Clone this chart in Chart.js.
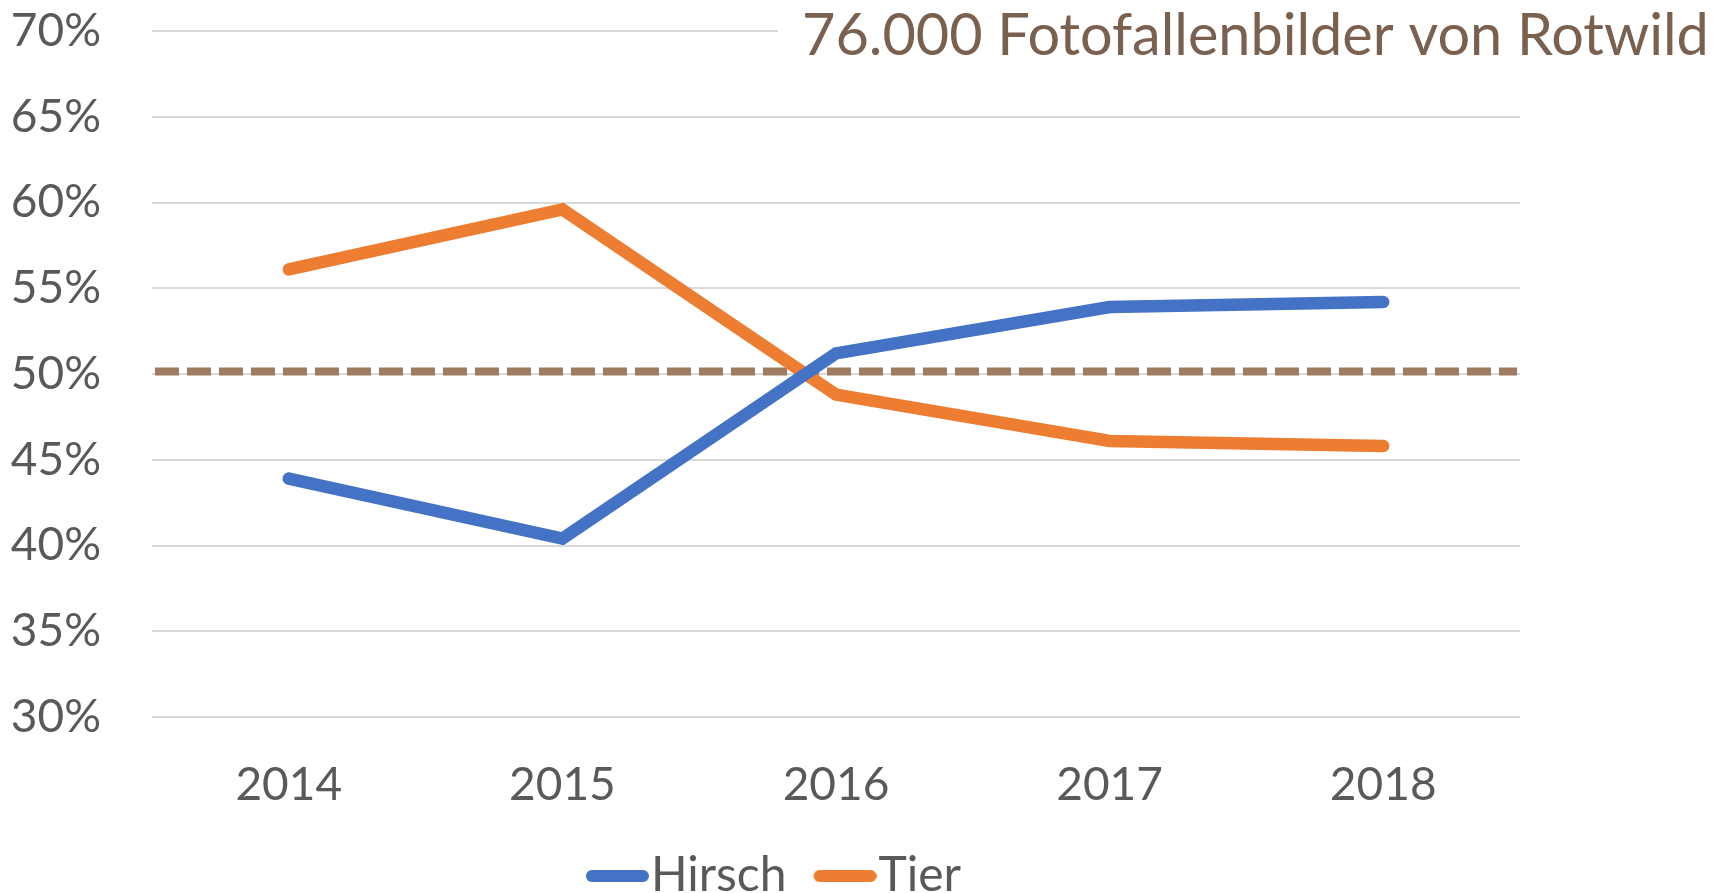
<!DOCTYPE html>
<html lang="de">
<head>
    <meta charset="UTF-8">
    <title>Fotofallenbilder von Rotwild</title>
    <style>
        html, body { margin: 0; padding: 0; background: #fff; overflow: hidden; }
        /* a bit taller than the window: the legend text is cut at the bottom like in the original */
        #wrap { width: 1730px; height: 910px; position: relative; }
    </style>
</head>
<body>
    <div id="wrap"><canvas id="chart"></canvas></div>
    <script src="https://cdn.jsdelivr.net/npm/chart.js"></script>
    <script>
        // values (percent)
        const years = ['2014', '2015', '2016', '2017', '2018'];
        const hirsch = [43.9, 40.4, 51.2, 53.9, 54.2];
        const tier = [56.1, 59.6, 48.8, 46.1, 45.8];
        const yMin = 30;
        const yMax = 70;
        const yStep = 5;
        const refLevel = 50;
        const titleText = '76.000 Fotofallenbilder von Rotwild';

        const fontFamily = 'Lato, "Open Sans", sans-serif';
        const blue = '#4472C4';
        const orange = '#ED7D31';

        // legend symbol: a thick line with round ends, sitting close to the label text
        function legendLine(color) {
            const c = document.createElement('canvas');
            c.width = 112;
            c.height = 14;
            const g = c.getContext('2d');
            g.strokeStyle = color;
            g.lineWidth = 12;
            g.lineCap = 'round';
            g.beginPath();
            g.moveTo(55, 7);
            g.lineTo(106, 7);
            g.stroke();
            return c;
        }

        // dashed 50% line across the whole plot
        const refLinePlugin = {
            id: 'refLine',
            beforeDatasetsDraw(chart) {
                const {ctx, chartArea, scales} = chart;
                const y = scales.y.getPixelForValue(refLevel) - 2.5;
                ctx.save();
                ctx.strokeStyle = '#A07D62';
                ctx.lineWidth = 8;
                ctx.setLineDash([24, 8]);
                ctx.beginPath();
                ctx.moveTo(chartArea.left + 3, y);
                ctx.lineTo(chartArea.right - 3, y);
                ctx.stroke();
                ctx.restore();
            }
        };

        // title sits on a white box over the top gridline, like in the original
        const titlePlugin = {
            id: 'boxTitle',
            afterDraw(chart) {
                const ctx = chart.ctx;
                ctx.save();
                ctx.fillStyle = '#ffffff';
                ctx.fillRect(778, 0, 952, 62);
                ctx.font = '100px ' + fontFamily;
                const size = 100 * 907 / ctx.measureText(titleText).width;
                ctx.font = size.toFixed(1) + 'px ' + fontFamily;
                ctx.fillStyle = '#7A604E';
                ctx.textBaseline = 'alphabetic';
                ctx.textAlign = 'left';
                ctx.fillText(titleText, 802, 55);
                ctx.restore();
            }
        };

        const chart = new Chart(document.getElementById('chart'), {
            type: 'line',
            data: {
                labels: years,
                datasets: [{
                    label: 'Hirsch',
                    data: hirsch,
                    borderColor: blue,
                    backgroundColor: blue,
                    borderWidth: 12.5,
                    borderCapStyle: 'round',
                    borderJoinStyle: 'miter',
                    pointRadius: 0,
                    tension: 0
                }, {
                    label: 'Tier',
                    data: tier,
                    borderColor: orange,
                    backgroundColor: orange,
                    borderWidth: 12.5,
                    borderCapStyle: 'round',
                    borderJoinStyle: 'miter',
                    pointRadius: 0,
                    tension: 0
                }]
            },
            options: {
                responsive: true,
                maintainAspectRatio: false,
                animation: false,
                layout: {
                    padding: { left: 0, right: 210, top: 31, bottom: 0 }
                },
                scales: {
                    x: {
                        offset: true,
                        grid: { display: false, drawTicks: false },
                        border: { display: false },
                        ticks: {
                            color: '#595959',
                            font: { family: fontFamily, size: 46 },
                            padding: 41,
                            maxRotation: 0
                        },
                        afterFit(scale) { scale.height = 135; }
                    },
                    y: {
                        min: yMin,
                        max: yMax,
                        grid: { color: '#D9D9D9', lineWidth: 2, drawTicks: false },
                        border: { display: false },
                        ticks: {
                            stepSize: yStep,
                            color: '#595959',
                            font: { family: fontFamily, size: 46 },
                            padding: 51,
                            callback: v => v + '%'
                        },
                        afterFit(scale) {
                            scale.width = 152;
                            // tick padding would otherwise push the plot down
                            scale.paddingTop = 0;
                            scale.paddingBottom = 0;
                        }
                    }
                },
                plugins: {
                    title: { display: false },
                    tooltip: { enabled: false },
                    legend: {
                        position: 'bottom',
                        labels: {
                            usePointStyle: true,
                            pointStyleWidth: 68,
                            boxHeight: 14,
                            padding: 0,
                            color: '#595959',
                            font: { family: fontFamily, size: 48 },
                            generateLabels(chart) {
                                return chart.data.datasets.map((ds, i) => ({
                                    text: ds.label,
                                    pointStyle: legendLine(ds.borderColor),
                                    fillStyle: ds.borderColor,
                                    strokeStyle: ds.borderColor,
                                    lineWidth: 0,
                                    fontColor: '#595959',
                                    datasetIndex: i
                                }));
                            }
                        }
                    }
                }
            },
            plugins: [refLinePlugin, titlePlugin]
        });
    </script>
</body>
</html>
